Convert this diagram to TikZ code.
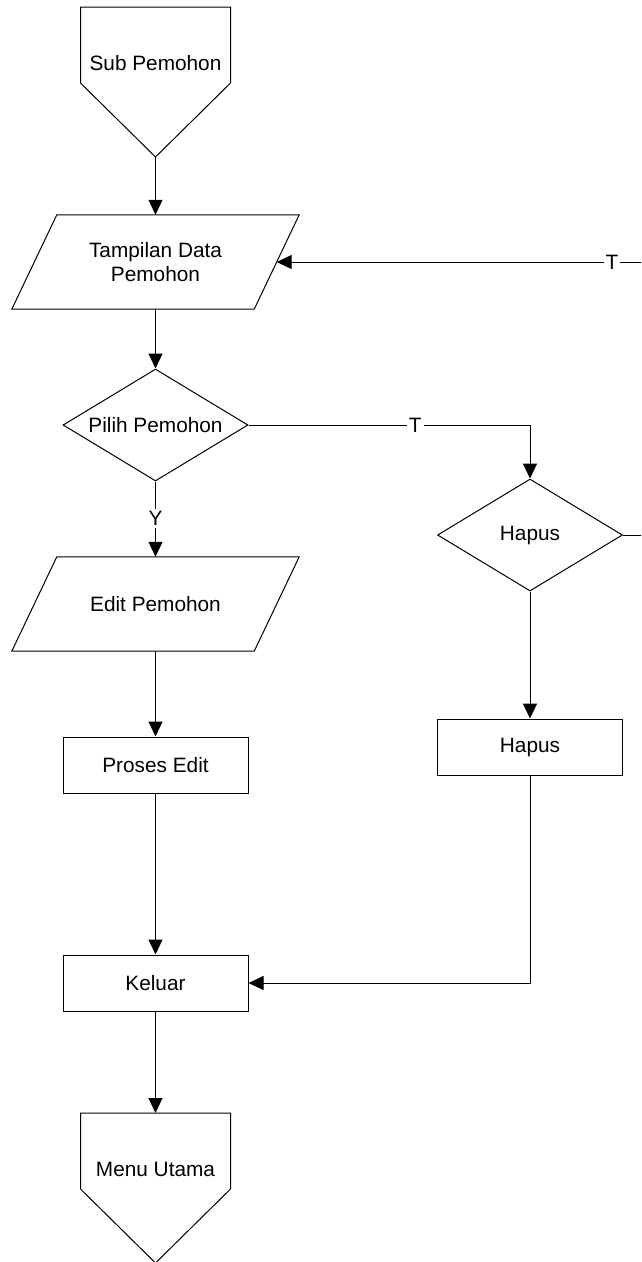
\documentclass[tikz,border=0pt]{standalone}
\usepackage{fontspec}
\setmainfont{Liberation Sans}
\usetikzlibrary{arrows.meta,shapes.geometric,calc}

% draws a slanted input/output box around a named node
\newcommand\ioframe[1]{%
  \draw[line] ([xshift=22.5pt]#1.north west) -- ([xshift=22.5pt]#1.north east)
    -- ([xshift=-22.5pt]#1.south east) -- ([xshift=-22.5pt]#1.south west) -- cycle;}

\begin{document}
\begin{tikzpicture}[x=1pt,y=-1pt,
  txt/.style={font=\fontsize{20.8}{24}\selectfont, align=center, inner sep=0pt},
  line/.style={draw=black, line width=1pt},
  flow/.style={line, -{Triangle[length=15pt,width=14pt]}},
  lbl/.style={txt, fill=white, inner sep=2pt},
  procbox/.style={txt, draw, line width=1pt, rectangle, minimum width=185pt, minimum height=56pt},
  decision/.style={txt, draw, line width=1pt, diamond, aspect=1.65, minimum width=185pt, minimum height=112pt},
  iobox/.style={txt, minimum width=242pt, minimum height=94pt}
]
\clip (0,0) rectangle (641,1262);
\fill[white] (0,0) rectangle (641,1262);

% off-page connector: start
\node[txt] (sub) at (155.5,63) {Sub Pemohon};
\draw[line] ($(sub)+(-75,-56)$) -- ($(sub)+(75,-56)$) -- ($(sub)+(75,20)$)
  -- ($(sub)+(0,94)$) coordinate (subtip) -- ($(sub)+(-75,20)$) -- cycle;

% main column
\node[iobox] (tampil) at (155.5,262) {Tampilan Data\\Pemohon};
\ioframe{tampil}
\node[decision] (pilih) at (155.5,425) {Pilih Pemohon};
\node[iobox] (edit) at (155.5,604) {Edit Pemohon};
\ioframe{edit}
\node[procbox] (proses) at (155.5,765) {Proses Edit};
\node[procbox] (keluar) at (155.5,983) {Keluar};

% off-page connector: end
\node[txt] (menu) at (155.5,1169) {Menu Utama};
\draw[line] ($(menu)+(-75,-56)$) coordinate (menunw) -- ($(menu)+(75,-56)$) -- ($(menu)+(75,20)$)
  -- ($(menu)+(0,94)$) -- ($(menu)+(-75,20)$) -- cycle;
\coordinate (menutop) at ($(menu)+(0,-56)$);

% right branch
\node[decision] (hapusd) at (530,535) {Hapus};
\node[procbox] (hapusp) at (530,747) {Hapus};

% connectors
\draw[flow] (subtip) -- (tampil.north);
\draw[flow] (tampil.south) -- (pilih.north);
\draw[flow] (pilih.south) -- node[lbl, pos=0.49] {Y} (edit.north);
\draw[flow] (pilih.east) -- node[lbl, pos=0.592] {T} (pilih.east -| hapusd.north) -- (hapusd.north);
\draw[flow] (edit.south) -- (proses.north);
\draw[flow] (proses.south) -- (keluar.north);
\draw[flow] (hapusd.south) -- (hapusp.north);
\draw[flow] (hapusp.south) |- (keluar.east);
\draw[flow] (keluar.south) -- (menutop);
\coordinate (loopcorner) at (660,535);
\draw[flow] (hapusd.east) -- (loopcorner) |- node[lbl, pos=0.5626] {T} (tampil.east);
\end{tikzpicture}
\end{document}
